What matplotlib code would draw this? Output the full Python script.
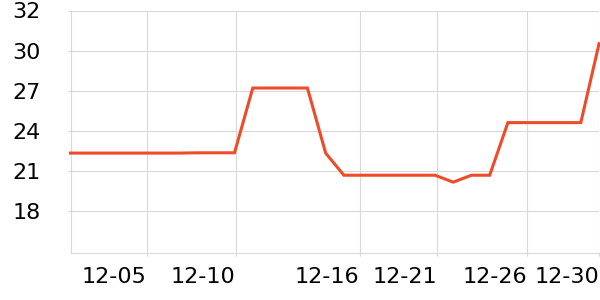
import matplotlib
matplotlib.use('Agg')
import matplotlib.pyplot as plt
import numpy as np

# Daily values, 12-01 .. 12-30
days = [f'12-{d:02d}' for d in range(1, 31)]
temps = [22.1, 22.1, 22.1, 22.1, 22.1, 22.1, 22.1, 22.12, 22.12, 22.12,
         26.8, 26.8, 26.8, 26.8, 22.1, 20.5, 20.5, 20.5, 20.5, 20.5,
         20.5, 20.0, 20.5, 20.5, 24.3, 24.3, 24.3, 24.3, 24.3, 30.0]

# Axis ticks as shown on the chart
x_tick_pos = [4.18, 9.06, 15.86, 20.12, 25.07, 29.0]
x_tick_labels = ['12-05', '12-10', '12-16', '12-21', '12-26', '12-30']
y_tick_pos = [17.9, 20.8, 23.7, 26.6, 29.5, 32.4]
y_tick_labels = ['18', '21', '24', '27', '30', '32']

LINE = '#ee4b2b'
GRID = '#d9d9d9'

fig = plt.figure(figsize=(6, 3), dpi=100)
ax = fig.add_axes([0.1175, 0.158, 0.8815, 0.807])

x = np.arange(len(temps))
ax.plot(x, temps, color=LINE, lw=2.2, solid_joinstyle='miter', zorder=3, clip_on=False)

ax.set_xlim(0, 29.02)
ax.set_ylim(14.91, 32.4)

ax.set_xticks(x_tick_pos)
ax.set_xticklabels(x_tick_labels, ha='right')
ax.set_yticks(y_tick_pos)
ax.set_yticklabels(y_tick_labels)

ax.grid(True, color=GRID, lw=0.8)
ax.set_axisbelow(True)
for side in ('top', 'right'):
    ax.spines[side].set_visible(False)
for side in ('left', 'bottom'):
    ax.spines[side].set_color(GRID)
    ax.spines[side].set_linewidth(0.8)

ax.tick_params(axis='both', colors=GRID, length=2.5, width=0.8, labelsize=16,
               labelcolor='black')
ax.tick_params(axis='x', pad=8)
ax.tick_params(axis='y', pad=19)

fig.savefig('out.png', dpi=100)
